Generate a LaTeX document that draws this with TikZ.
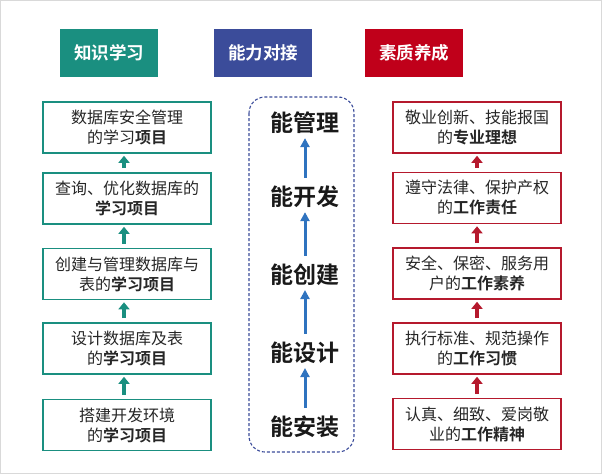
\documentclass[tikz,border=0pt]{standalone}
\usepackage{fontspec}
\setmainfont{Noto Sans CJK SC}[BoldFont={Noto Sans CJK SC Bold}]
\usetikzlibrary{positioning,arrows.meta}

\definecolor{zsteal}{HTML}{1A8F80}
\definecolor{nlblue}{HTML}{3B4C9A}
\definecolor{nlarrow}{HTML}{2F73BF}
\definecolor{szred}{HTML}{C0001A}
\definecolor{szline}{HTML}{B5192D}

\begin{document}
\begin{tikzpicture}[x=1pt,y=-1pt,
	head/.style={minimum width=98pt,minimum height=48pt,inner sep=0pt,text=white,font=\fontsize{17.5}{20}\selectfont\bfseries},
	item/.style={draw,line width=1.6pt,minimum width=168pt,minimum height=51pt,inner sep=0pt,align=center,text=black!85,font=\fontsize{16}{20}\selectfont},
	ability/.style={inner sep=0pt,text=black!90,font=\fontsize{23}{26}\selectfont\bfseries},
	up/.style={line width=3.5pt,-{Triangle[width=11pt,length=7pt]}},
	upb/.style={line width=3pt,-{Triangle[width=9pt,length=9pt]}}]

\useasboundingbox (0,0) rectangle (602,474);
\draw[black!15,line width=1pt] (0.5,0.5) rectangle (601.5,473.5);

% headers
\node[head,fill=zsteal] (h1) at (109,53) {知识学习};
\node[head,fill=nlblue] (h2) at (263,53) {能力对接};
\node[head,fill=szred] (h3) at (414,53) {素质养成};

% knowledge column
\foreach[count=\c] \y/\t in {127.5/{数据库安全管理\\的学习\textbf{项目}},
	198.5/{查询、优化数据库的\\\textbf{学习项目}},
	274/{创建与管理数据库与\\表的\textbf{学习项目}},
	348.5/{设计数据库及表\\的\textbf{学习项目}},
	425/{搭建开发环境\\的\textbf{学习项目}}}{
	\node[item,draw=zsteal] (k\c) at (127,\y) {\t};
}

% ability column
\draw[nlblue,line width=1.1pt,dash pattern=on 3pt off 2pt,rounded corners=16pt] (249,97) rectangle (354,452);
\foreach[count=\c] \y/\t in {123/能管理,197/能开发,275/能创建,353/能设计,427/能安装}{
	\node[ability] (a\c) at (305,\y) {\t};
}

% quality column
\foreach[count=\c] \y/\t in {127.5/{敬业创新、技能报国\\的\textbf{专业理想}},
	198/{遵守法律、保护产权\\的\textbf{工作责任}},
	273.5/{安全、保密、服务用\\户的\textbf{工作素养}},
	348.5/{执行标准、规范操作\\的\textbf{工作习惯}},
	424/{认真、细致、爱岗敬\\业的\textbf{工作精神}}}{
	\node[item,draw=szline] (q\c) at (477,\y) {\t};
}

\foreach \a/\b in {2/1,3/2,4/3,5/4}{
	\draw[up,zsteal,shorten >=2pt,shorten <=4pt] ([xshift=-3pt]k\a.north) -- ([xshift=-3pt]k\b.south);
	\draw[upb,nlarrow,shorten >=4pt,shorten <=8pt] (a\a.north) -- (a\b.south);
	\draw[up,szline,shorten >=2pt,shorten <=4pt] (q\a.north) -- (q\b.south);
}

\end{tikzpicture}
\end{document}
